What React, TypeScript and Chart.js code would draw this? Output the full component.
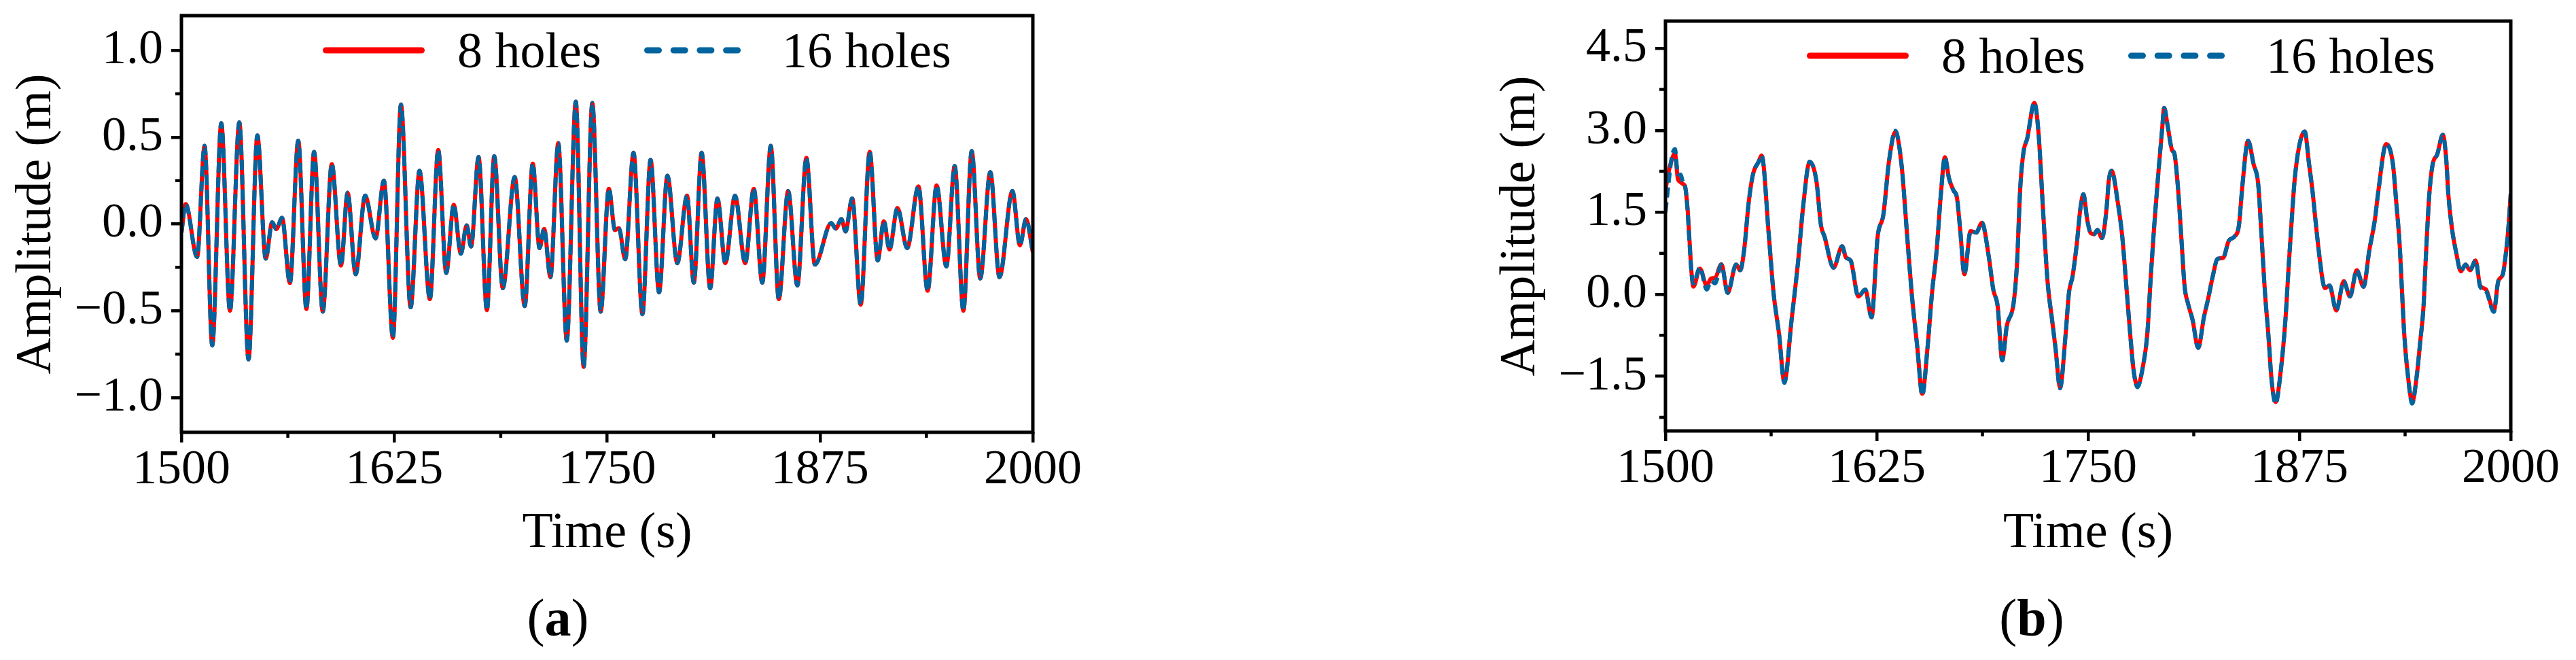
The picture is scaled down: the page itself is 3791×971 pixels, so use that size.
import React, { useEffect, useRef } from 'react';
import { Chart, registerables } from 'chart.js';

Chart.register(...registerables);

const FONT = "'Liberation Serif', 'Times New Roman', Times, serif";
const RED = '#FF0000';
const BLUE = '#00649E';

// ---------- Panel (a) data ----------
const TIME_A = [1500, 1502.5, 1509.2, 1513.6, 1518.1, 1523.4, 1528.5, 1534.0, 1539.4, 1544.6, 1549.5, 1553.3, 1555.7, 1559.1, 1563.7, 1568.6, 1573.4, 1577.9, 1583.0, 1588.3, 1593.7, 1597.6, 1602.3, 1607.9, 1614.0, 1618.9, 1624.2, 1628.9, 1634.6, 1639.8, 1645.9, 1650.8, 1655.5, 1659.9, 1664.1, 1667.5, 1670.1, 1674.5, 1679.4, 1683.7, 1688.7, 1695.7, 1701.6, 1706.3, 1710.3, 1713.0, 1716.7, 1721.3, 1726.3, 1731.6, 1736.2, 1741.3, 1746.2, 1751.0, 1754.6, 1756.9, 1760.6, 1765.5, 1770.7, 1775.5, 1780.5, 1785.4, 1791.2, 1796.9, 1800.9, 1805.5, 1810.5, 1814.8, 1819.4, 1825.1, 1831.1, 1836.1, 1841.1, 1846.1, 1850.8, 1856.3, 1861.7, 1867.0, 1872.0, 1881.6, 1884.3, 1887.6, 1890.0, 1893.9, 1898.9, 1904.2, 1908.9, 1912.5, 1915.8, 1920.5, 1926.2, 1932.8, 1938.2, 1943.5, 1949.2, 1954.1, 1959.2, 1964.1, 1969.1, 1975.0, 1980.4, 1988.0, 1992.4, 1996.0, 2000];

const AMP_A_16 = [-0.05, 0.115, -0.19, 0.45, -0.70, 0.58, -0.50, 0.585, -0.78, 0.51, -0.20, 0.01, -0.03, 0.035, -0.34, 0.48, -0.49, 0.415, -0.505, 0.345, -0.24, 0.18, -0.29, 0.163, -0.083, 0.25, -0.656, 0.688, -0.48, 0.306, -0.433, 0.426, -0.282, 0.111, -0.171, -0.008, -0.13, 0.386, -0.497, 0.391, -0.37, 0.27, -0.473, 0.347, -0.139, -0.028, -0.306, 0.466, -0.672, 0.705, -0.823, 0.697, -0.505, 0.203, -0.035, -0.024, -0.203, 0.41, -0.52, 0.37, -0.394, 0.278, -0.226, 0.163, -0.338, 0.41, -0.37, 0.147, -0.226, 0.163, -0.226, 0.203, -0.338, 0.45, -0.433, 0.19, -0.354, 0.381, -0.234, 0.005, -0.027, 0.028, -0.043, 0.147, -0.465, 0.415, -0.21, 0.016, -0.147, 0.092, -0.139, 0.216, -0.385, 0.222, -0.245, 0.334, -0.5, 0.42, -0.314, 0.299, -0.306, 0.19, -0.123, 0.028, -0.163];

const AMP_A_8 = [-0.05, 0.115, -0.19, 0.45, -0.70, 0.58, -0.50, 0.585, -0.78, 0.51, -0.20, 0.01, -0.03, 0.035, -0.34, 0.48, -0.49, 0.415, -0.505, 0.345, -0.24, 0.18, -0.29, 0.163, -0.083, 0.25, -0.656, 0.688, -0.48, 0.306, -0.433, 0.426, -0.282, 0.111, -0.171, -0.008, -0.13, 0.386, -0.497, 0.391, -0.37, 0.27, -0.473, 0.347, -0.139, -0.028, -0.306, 0.466, -0.672, 0.705, -0.823, 0.697, -0.505, 0.203, -0.035, -0.024, -0.203, 0.41, -0.52, 0.37, -0.394, 0.278, -0.226, 0.163, -0.338, 0.41, -0.37, 0.147, -0.226, 0.163, -0.226, 0.203, -0.338, 0.45, -0.433, 0.19, -0.354, 0.381, -0.234, 0.005, -0.027, 0.028, -0.043, 0.147, -0.465, 0.415, -0.21, 0.016, -0.147, 0.092, -0.139, 0.216, -0.385, 0.222, -0.245, 0.334, -0.5, 0.42, -0.314, 0.299, -0.306, 0.19, -0.123, 0.028, -0.163];

// ---------- Panel (b) data ----------
const TIME_B = [1500.0, 1501.6, 1503.6, 1505.6, 1507.3, 1509.0, 1510.3, 1511.6, 1513.0, 1514.3, 1515.4, 1516.5, 1520.4, 1524.4, 1527.0, 1529.3, 1533.1, 1536.8, 1541.8, 1544.2, 1546.5, 1549.2, 1551.8, 1555.2, 1556.9, 1561.2, 1563.9, 1567.2, 1570.3, 1574.6, 1578.6, 1581.3, 1585.3, 1589.3, 1592.0, 1594.1, 1599.4, 1604.5, 1606.8, 1609.5, 1614.1, 1618.2, 1621.9, 1625.5, 1628.9, 1632.2, 1636.0, 1639.6, 1643.0, 1645.6, 1649.0, 1651.9, 1655.0, 1657.7, 1660.4, 1663.0, 1665.3, 1667.7, 1670.4, 1672.4, 1674.4, 1676.8, 1680.5, 1683.8, 1687.2, 1691.2, 1693.9, 1696.5, 1699.2, 1701.9, 1705.9, 1707.9, 1709.9, 1711.9, 1713.9, 1718.2, 1720.7, 1723.3, 1726.0, 1728.7, 1730.7, 1733.4, 1736.7, 1738.7, 1740.8, 1743.4, 1745.4, 1747.2, 1749.5, 1751.5, 1753.5, 1755.5, 1758.2, 1760.9, 1762.2, 1763.9, 1767.6, 1770.2, 1772.9, 1774.9, 1776.9, 1779.2, 1782.3, 1785.0, 1787.0, 1789.0, 1791.7, 1793.7, 1795.0, 1797.0, 1799.7, 1801.0, 1803.1, 1805.1, 1807.1, 1809.1, 1811.8, 1815.1, 1818.5, 1821.1, 1823.8, 1826.5, 1829.9, 1833.2, 1836.5, 1839.2, 1841.2, 1844.6, 1847.9, 1850.6, 1852.6, 1854.6, 1856.6, 1858.6, 1860.9, 1864.0, 1866.7, 1868.7, 1870.0, 1872.1, 1874.7, 1878.1, 1880.7, 1882.8, 1884.8, 1886.8, 1888.8, 1890.1, 1892.8, 1896.8, 1901.2, 1904.9, 1908.9, 1912.9, 1916.3, 1919.6, 1921.6, 1926.3, 1930.3, 1932.3, 1934.3, 1935.7, 1937.0, 1939.0, 1941.7, 1944.4, 1946.4, 1948.4, 1949.8, 1951.8, 1953.8, 1956.5, 1959.8, 1961.8, 1963.1, 1965.2, 1967.8, 1970.5, 1973.2, 1975.9, 1979.2, 1981.9, 1985.3, 1990.0, 1992.6, 1995.3, 1997.3, 1998.7, 2000.0];

const AMP_B_16 = [1.5, 1.97, 2.48, 2.66, 2.2, 2.19, 2.05, 1.98, 1.565, 0.9, 0.39, 0.2, 0.49, 0.087, 0.24, 0.2, 0.545, 0.025, 0.545, 0.44, 0.8, 1.67, 2.2, 2.43, 2.54, 1.055, 0.036, -0.73, -1.62, -0.47, 0.647, 1.565, 2.43, 2.07, 1.26, 1.055, 0.484, 0.88, 0.67, 0.62, -0.04, 0.087, -0.42, 1.055, 1.46, 2.43, 2.99, 2.38, 1.055, 0.036, -0.98, -1.85, -0.98, 0.036, 0.8, 1.87, 2.51, 2.125, 1.9, 1.77, 1.157, 0.367, 1.157, 1.13, 1.31, 0.698, 0.087, -0.22, -1.21, -0.58, -0.17, 0.545, 1.97, 2.63, 2.84, 3.51, 2.94, 1.565, 0.24, -0.47, -0.98, -1.72, -0.73, 0.036, 0.33, 0.95, 1.565, 1.83, 1.36, 1.12, 1.10, 1.18, 1.03, 1.565, 2.07, 2.26, 1.67, 1.055, 0.036, -0.73, -1.39, -1.70, -1.34, -0.73, 0.29, 1.21, 2.28, 2.99, 3.41, 3.09, 2.635, 2.58, 1.97, 1.055, 0.138, -0.17, -0.47, -0.98, -0.42, -0.066, 0.34, 0.647, 0.67, 0.98, 1.055, 1.26, 1.97, 2.81, 2.38, 2.02, 1.055, 0.036, -0.73, -1.595, -2.0, -1.39, -0.47, 0.545, 1.157, 2.07, 2.69, 2.98, 2.38, 1.87, 1.26, 0.7, 0.24, 0.112, 0.163, -0.296, 0.24, -0.04, 0.443, 0.138, 0.8, 1.36, 1.87, 2.75, 2.38, 1.67, 0.9, 0.036, -0.73, -1.44, -2.0, -1.49, -0.88, -0.22, 0.7, 1.82, 2.38, 2.56, 2.92, 2.48, 1.82, 1.21, 0.75, 0.42, 0.545, 0.44, 0.62, 0.138, 0.061, -0.32, 0.24, 0.367, 0.8, 1.26, 1.845];

const AMP_B_8 = [1.9, 2.2, 2.45, 2.58, 2.12, 2.05, 2.02, 1.97, 1.6, 0.95, 0.4, 0.14, 0.47, 0.16, 0.29, 0.3, 0.55, 0.03, 0.545, 0.44, 0.8, 1.67, 2.2, 2.43, 2.54, 1.055, 0.036, -0.73, -1.6, -0.47, 0.647, 1.565, 2.42, 2.07, 1.26, 1.055, 0.484, 0.88, 0.67, 0.62, -0.04, 0.087, -0.42, 1.055, 1.46, 2.43, 2.97, 2.38, 1.055, 0.036, -0.98, -1.82, -0.98, 0.036, 0.8, 1.87, 2.51, 2.125, 1.9, 1.77, 1.157, 0.367, 1.157, 1.13, 1.31, 0.698, 0.087, -0.22, -1.2, -0.58, -0.17, 0.545, 1.97, 2.63, 2.84, 3.5, 2.94, 1.565, 0.24, -0.47, -0.98, -1.7, -0.73, 0.036, 0.33, 0.95, 1.565, 1.83, 1.36, 1.12, 1.10, 1.18, 1.03, 1.565, 2.07, 2.26, 1.67, 1.055, 0.036, -0.73, -1.39, -1.68, -1.34, -0.73, 0.29, 1.21, 2.28, 2.99, 3.41, 3.09, 2.635, 2.58, 1.97, 1.055, 0.138, -0.17, -0.47, -0.98, -0.42, -0.066, 0.34, 0.647, 0.67, 0.98, 1.055, 1.26, 1.97, 2.81, 2.38, 2.02, 1.055, 0.036, -0.73, -1.595, -1.97, -1.39, -0.47, 0.545, 1.157, 2.07, 2.69, 2.98, 2.38, 1.87, 1.26, 0.7, 0.24, 0.112, 0.163, -0.296, 0.24, -0.04, 0.443, 0.138, 0.8, 1.36, 1.87, 2.75, 2.38, 1.67, 0.9, 0.036, -0.73, -1.44, -1.97, -1.49, -0.88, -0.22, 0.7, 1.82, 2.38, 2.56, 2.92, 2.48, 1.82, 1.21, 0.75, 0.42, 0.545, 0.44, 0.62, 0.16, 0.09, -0.3, 0.24, 0.367, 0.8, 1.26, 1.845];

// ---------- Axes / labels ----------
const X_TICKS = [1500, 1625, 1750, 1875, 2000];
const X_TICK_LABELS = ['1500', '1625', '1750', '1875', '2000'];
const X_MINOR = [1562.5, 1687.5, 1812.5, 1937.5];

const Y_TICKS_A = [-1.0, -0.5, 0.0, 0.5, 1.0];
const Y_TICK_LABELS_A = ['\u22121.0', '\u22120.5', '0.0', '0.5', '1.0'];
const Y_MINOR_A = [-0.75, -0.25, 0.25, 0.75];

const Y_TICKS_B = [-1.5, 0.0, 1.5, 3.0, 4.5];
const Y_TICK_LABELS_B = ['\u22121.5', '0.0', '1.5', '3.0', '4.5'];
const Y_MINOR_B = [-2.25, -0.75, 0.75, 2.25, 3.75];

const SERIES_LABELS = ['8 holes', '16 holes'];
const X_TITLE = 'Time (s)';
const Y_TITLE = 'Amplitude (m)';

type Spec = {
  time: number[];
  amp8: number[];
  amp16: number[];
  yMin: number;
  yMax: number;
  yTicks: number[];
  yLabels: string[];
  yMinor: number[];
  caption: string;
  captionX: number;
  top: number;
  bottom: number;
  padRight: number;
  width: number;
  left: number;
};

const CANVAS_H = 971;
const SCALE_BOTTOM = 830;

function makeDecor(spec: Spec) {
  return {
    id: 'decor',
    afterDraw(chart: any) {
      const { ctx, chartArea: ca, scales } = chart;
      const xs = scales.x;
      const ys = scales.y;
      ctx.save();
      // minor ticks
      ctx.strokeStyle = '#000';
      ctx.lineWidth = 4.5;
      ctx.lineCap = 'butt';
      ctx.beginPath();
      X_MINOR.forEach((v) => {
        const p = xs.getPixelForValue(v);
        ctx.moveTo(p, ca.bottom);
        ctx.lineTo(p, ca.bottom + 8);
      });
      spec.yMinor.forEach((v) => {
        const p = ys.getPixelForValue(v);
        ctx.moveTo(ca.left - 9, p);
        ctx.lineTo(ca.left, p);
      });
      ctx.stroke();
      // frame
      ctx.lineWidth = 5;
      ctx.strokeRect(ca.left, ca.top, ca.right - ca.left, ca.bottom - ca.top);

      // legend
      const ly = ca.top + 51;
      ctx.lineCap = 'round';
      ctx.lineWidth = 9;
      ctx.strokeStyle = RED;
      ctx.beginPath();
      ctx.moveTo(ca.left + 208 + 4.5, ly);
      ctx.lineTo(ca.left + 358 - 4.5, ly);
      ctx.stroke();
      ctx.strokeStyle = BLUE;
      ctx.setLineDash([17, 21.7]);
      ctx.beginPath();
      ctx.moveTo(ca.left + 681 + 4.5, ly);
      ctx.lineTo(ca.left + 824 - 4.5, ly);
      ctx.stroke();
      ctx.setLineDash([]);
      ctx.fillStyle = '#000';
      ctx.font = `74px ${FONT}`;
      ctx.textAlign = 'left';
      ctx.textBaseline = 'alphabetic';
      ctx.fillText(SERIES_LABELS[0], ca.left + 406, ca.top + 76);
      ctx.fillText(SERIES_LABELS[1], ca.left + 884, ca.top + 76);

      // caption "(a)" / "(b)"
      const cy = 935;
      ctx.font = `78px ${FONT}`;
      const w1 = ctx.measureText('(').width;
      const w3 = ctx.measureText(')').width;
      ctx.font = `bold 78px ${FONT}`;
      const w2 = ctx.measureText(spec.caption).width;
      let x = spec.captionX - (w1 + w2 + w3) / 2;
      ctx.font = `78px ${FONT}`;
      ctx.fillText('(', x, cy);
      x += w1;
      ctx.font = `bold 78px ${FONT}`;
      ctx.fillText(spec.caption, x, cy);
      x += w2;
      ctx.font = `78px ${FONT}`;
      ctx.fillText(')', x, cy);
      ctx.restore();
    },
  };
}

function buildConfig(spec: Spec): any {
  const tickFont = { family: FONT, size: 72, lineHeight: 1.15 };
  const titleFont = { family: FONT, size: 74, lineHeight: 1.2 };
  return {
    type: 'line',
    data: {
      datasets: [
        {
          label: SERIES_LABELS[1],
          data: spec.time.map((t, i) => ({ x: t, y: spec.amp16[i] })),
          borderColor: BLUE,
          backgroundColor: BLUE,
          borderWidth: 6,
          borderDash: [15, 7],
          borderCapStyle: 'butt',
          pointRadius: 0,
          cubicInterpolationMode: 'monotone',
          fill: false,
          order: 1,
        },
        {
          label: SERIES_LABELS[0],
          data: spec.time.map((t, i) => ({ x: t, y: spec.amp8[i] })),
          borderColor: RED,
          backgroundColor: RED,
          borderWidth: 6,
          borderJoinStyle: 'round',
          pointRadius: 0,
          cubicInterpolationMode: 'monotone',
          fill: false,
          order: 2,
        },
      ],
    },
    options: {
      responsive: false,
      animation: false,
      devicePixelRatio: 1,
      events: [],
      layout: {
        padding: { left: 0, top: spec.top, right: spec.padRight, bottom: CANVAS_H - SCALE_BOTTOM },
      },
      plugins: {
        legend: { display: false },
        tooltip: { enabled: false },
        title: { display: false },
      },
      scales: {
        x: {
          type: 'linear',
          min: 1500,
          max: 2000,
          afterBuildTicks: (s: any) => {
            s.ticks = X_TICKS.map((v) => ({ value: v }));
          },
          afterFit: (s: any) => {
            s.height = SCALE_BOTTOM - spec.bottom;
            s.paddingLeft = 0;
            s.paddingRight = 0;
          },
          ticks: {
            font: tickFont,
            color: '#000',
            padding: 0,
            autoSkip: false,
            maxRotation: 0,
            minRotation: 0,
            callback: (_v: any, i: number) => X_TICK_LABELS[i],
          },
          grid: {
            display: true,
            drawOnChartArea: false,
            drawTicks: true,
            tickLength: 15,
            tickWidth: 4.5,
            lineWidth: 4.5,
            tickColor: '#000',
            color: '#000',
          },
          border: { display: false },
          title: {
            display: true,
            text: X_TITLE,
            font: titleFont,
            color: '#000',
            padding: { top: 0, bottom: 0 },
          },
        },
        y: {
          type: 'linear',
          min: spec.yMin,
          max: spec.yMax,
          afterBuildTicks: (s: any) => {
            s.ticks = spec.yTicks.map((v) => ({ value: v }));
          },
          afterFit: (s: any) => {
            s.width = 267;
            s.paddingTop = 0;
            s.paddingBottom = 0;
          },
          ticks: {
            font: tickFont,
            color: '#000',
            padding: 12,
            autoSkip: false,
            callback: (_v: any, i: number) => spec.yLabels[i],
          },
          grid: {
            display: true,
            drawOnChartArea: false,
            drawTicks: true,
            tickLength: 15,
            tickWidth: 4.5,
            lineWidth: 4.5,
            tickColor: '#000',
            color: '#000',
          },
          border: { display: false },
          title: {
            display: true,
            text: Y_TITLE,
            font: titleFont,
            color: '#000',
            padding: { top: 10, bottom: 0 },
          },
        },
      },
    },
    plugins: [makeDecor(spec)],
  };
}

const SPEC_A: Spec = {
  time: TIME_A,
  amp8: AMP_A_8,
  amp16: AMP_A_16,
  yMin: -1.2,
  yMax: 1.2,
  yTicks: Y_TICKS_A,
  yLabels: Y_TICK_LABELS_A,
  yMinor: Y_MINOR_A,
  caption: 'a',
  captionX: 821,
  top: 23,
  bottom: 636,
  padRight: 230,
  width: 1750,
  left: 0,
};

const SPEC_B: Spec = {
  time: TIME_B,
  amp8: AMP_B_8,
  amp16: AMP_B_16,
  yMin: -2.5,
  yMax: 5.0,
  yTicks: Y_TICKS_B,
  yLabels: Y_TICK_LABELS_B,
  yMinor: Y_MINOR_B,
  caption: 'b',
  captionX: 806,
  top: 31,
  bottom: 634,
  padRight: 96,
  width: 1607,
  left: 2184,
};

function Panel({ spec }: { spec: Spec }) {
  const ref = useRef<HTMLCanvasElement | null>(null);
  useEffect(() => {
    if (!ref.current) return;
    const chart = new Chart(ref.current, buildConfig(spec));
    return () => chart.destroy();
  }, [spec]);
  return (
    <canvas
      ref={ref}
      width={spec.width}
      height={CANVAS_H}
      style={{ position: 'absolute', left: spec.left, top: 0, width: spec.width, height: CANVAS_H, display: 'block' }}
    />
  );
}

export default function App() {
  return (
    <div
      style={{
        position: 'fixed',
        left: 0,
        top: 0,
        width: 3791,
        height: CANVAS_H,
        background: '#fff',
        overflow: 'hidden',
      }}
    >
      <Panel spec={SPEC_A} />
      <Panel spec={SPEC_B} />
    </div>
  );
}
